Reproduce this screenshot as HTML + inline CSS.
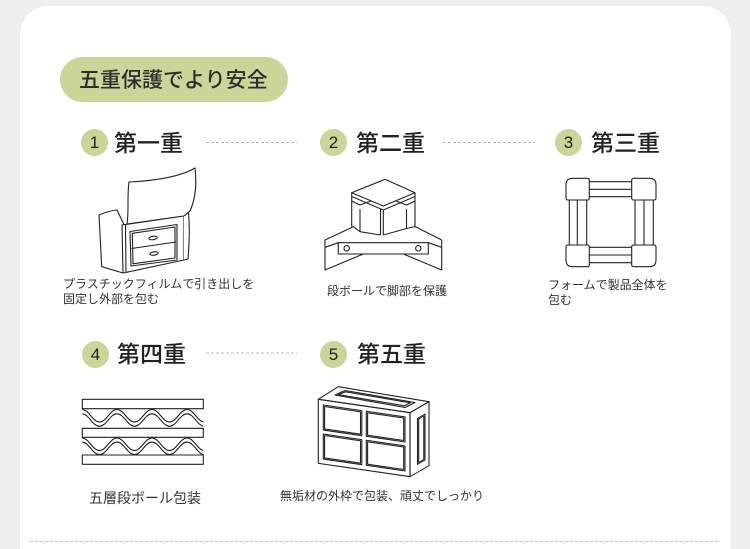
<!DOCTYPE html>
<html><head><meta charset="utf-8">
<style>
*{margin:0;padding:0;box-sizing:border-box}
html,body{width:750px;height:549px;overflow:hidden;background:#efefef;font-family:"Liberation Sans","Noto Sans CJK JP",sans-serif;color:#2a2a2a;position:relative}
.card{position:absolute;left:20px;top:6px;width:711px;height:543px;background:#fff;border-radius:28px 28px 0 0;box-shadow:0 0 3px rgba(0,0,0,0.04)}
.pill{position:absolute;left:60px;top:57px;width:228px;height:45px;border-radius:23px;background:#cbd598}
.t{position:absolute;white-space:nowrap}
.title{left:79px;top:66px;font-size:21px;line-height:30px;font-weight:500;color:#2e2e2e}
.h{font-size:23px;line-height:30px;font-weight:500;color:#222}
.c{position:absolute;width:27px;height:27px;border-radius:50%;background:#cbd598;font-family:"Liberation Sans",sans-serif;font-size:17px;line-height:27px;text-align:center;color:#222}
.cap{font-size:12px;line-height:15px;color:#333}
</style></head><body>
<div class="card"></div>
<div class="pill"></div>
<div class="t title">五重保護でより安全</div>

<div class="c" style="left:81px;top:129px">1</div>
<div class="t h" style="left:114px;top:128px">第一重</div>
<div class="c" style="left:320px;top:129px">2</div>
<div class="t h" style="left:356px;top:128px">第二重</div>
<div class="c" style="left:555px;top:129px">3</div>
<div class="t h" style="left:591px;top:128px">第三重</div>
<div class="c" style="left:82px;top:341px">4</div>
<div class="t h" style="left:117px;top:339px">第四重</div>
<div class="c" style="left:320px;top:341px">5</div>
<div class="t h" style="left:357px;top:339px">第五重</div>

<div class="t cap" style="left:63px;top:277px">プラスチックフィルムで引き出しを<br>固定し外部を包む</div>
<div class="t cap" style="left:327px;top:284px">段ボールで脚部を保護</div>
<div class="t cap" style="left:548px;top:278px">フォームで製品全体を<br>包む</div>
<div class="t" style="left:89px;top:489px;font-size:14px;line-height:18px;color:#333">五層段ボール包装</div>
<div class="t cap" style="left:280px;top:489px">無垢材の外枠で包装、頑丈でしっかり</div>

<svg width="750" height="549" style="position:absolute;left:0;top:0" fill="none" stroke="#222" stroke-width="1.1" stroke-linejoin="round">
<defs><clipPath id="cw"><rect x="82.3" y="395" width="121" height="75"/></clipPath></defs>
<g stroke="#bbb" stroke-width="1" stroke-dasharray="3 2">
<line x1="206" y1="142.5" x2="297" y2="142.5"/>
<line x1="443" y1="142.5" x2="535" y2="142.5"/>
<line x1="206" y1="353" x2="297" y2="353"/>
</g>
<line x1="30" y1="541.5" x2="720" y2="541.5" stroke="#c6c6c6" stroke-width="1" stroke-dasharray="3 2"/>

<!-- 1 -->
<g fill="#fff">
<path d="M129,182 C150,181 178,178 195,168 C197,185 195,200 190,211 L184,216 L127,224 C129,212 127,196 129,182 Z"/>
<path d="M99,215 Q108,211 117,210 L124,224.5 L123,273 L101.7,266.7 Z"/>
<path d="M122,225 L184,216 L184,260 L123,273 Z"/>
<path d="M184,216 L188.5,212.5 C190,230 189,248 188,259 L184,260"/>
</g>
<line x1="125.5" y1="224.5" x2="126" y2="272.5"/>
<path d="M130,231.5 L177,224.5 L177,260 L131,266 Z"/>
<path d="M132.3,233.3 L175,227 L175,258 L133,263.8 Z"/>
<path d="M131.5,248.5 L176,242"/>
<ellipse cx="153" cy="238" rx="4.2" ry="1.7" transform="rotate(-8 153 238)"/>
<ellipse cx="154" cy="253.5" rx="4.2" ry="1.7" transform="rotate(-8 154 253.5)"/>

<!-- 2 -->
<path d="M351.7,192.7 L385,179.3 L415,192.7 L383.3,206 Z"/>
<path d="M351.7,196.5 L383.3,210 L415,196.5"/>
<path d="M351.7,192.7 V226.7 M415,192.7 V226.5"/>
<path d="M380.5,209 V235 M383.3,210 V235"/>
<path d="M360,209 V231.7 M406.5,209 V228.5"/>
<path d="M351.7,201 L360,205 L371,201 M396,201 L406.5,205 L415,201"/>
<path d="M325,240 L353.3,226.7 L360,231.7 L380.5,235 M383.3,235 L406.5,228.5 L415,226.5 L441.7,240"/>
<path d="M325,247.3 L338.3,242.7 M441.7,247.3 L428.3,242.7"/>
<path d="M325,240 V270 L363.3,254 M441.7,240 V270 L403.3,254"/>
<rect x="338.3" y="242.7" width="90" height="11.3" fill="#fff"/>
<circle cx="346.7" cy="248.3" r="2.7"/>
<circle cx="418.3" cy="248.3" r="2.7"/>

<!-- 3 -->
<path d="M569.3,200 V245 M577.3,200 V245 M586.7,200 V245"/>
<path d="M635,200 V245 M644,200 V245 M653.3,200 V245"/>
<path d="M589.3,181.7 H631.7 M589.3,189.3 H631.7 M589.3,196.7 H631.7"/>
<path d="M589.3,247.3 H631.7 M589.3,255 H631.7 M589.3,262.7 H631.7"/>
<path d="M566,185 Q566,178.3 572.5,178.3 L587.3,178.3 Q589.3,178.3 589.3,180.3 L589.3,198 Q589.3,200 587.3,200 L568,200 Q566,200 566,198 Z"/>
<path d="M631.7,180.3 Q631.7,178.3 633.7,178.3 L649.5,178.3 Q656,178.3 656,185 L656,198 Q656,200 654,200 L633.7,200 Q631.7,200 631.7,198 Z"/>
<path d="M566,247 Q566,245 568,245 L587.3,245 Q589.3,245 589.3,247 L589.3,264.7 Q589.3,266.7 587.3,266.7 L572.5,266.7 Q566,266.7 566,260 Z"/>
<path d="M631.7,247 Q631.7,245 633.7,245 L654,245 Q656,245 656,247 L656,260 Q656,266.7 649.5,266.7 L633.7,266.7 Q631.7,266.7 631.7,264.7 Z"/>

<!-- 4 -->
<rect x="82.3" y="399.3" width="121" height="9.4"/>
<rect x="82.3" y="428.3" width="121" height="9"/>
<rect x="82.3" y="455" width="121" height="9.3"/>
<g clip-path="url(#cw)">
<path d="M82,409.5 C89,409.5 92.5,422 99.5,422 C106.5,422 110,409.5 117,409.5 C124,409.5 127.5,422 134.5,422 C141.5,422 145,409.5 152,409.5 C159,409.5 162.5,422 169.5,422 C176.5,422 180,409.5 187,409.5 C194,409.5 197.5,422 204.5,422"/>
<path transform="translate(0,4.3)" d="M82,409.5 C89,409.5 92.5,422 99.5,422 C106.5,422 110,409.5 117,409.5 C124,409.5 127.5,422 134.5,422 C141.5,422 145,409.5 152,409.5 C159,409.5 162.5,422 169.5,422 C176.5,422 180,409.5 187,409.5 C194,409.5 197.5,422 204.5,422"/>
<path transform="translate(0,28.5)" d="M82,409.5 C89,409.5 92.5,422 99.5,422 C106.5,422 110,409.5 117,409.5 C124,409.5 127.5,422 134.5,422 C141.5,422 145,409.5 152,409.5 C159,409.5 162.5,422 169.5,422 C176.5,422 180,409.5 187,409.5 C194,409.5 197.5,422 204.5,422"/>
<path transform="translate(0,32.6)" d="M82,409.5 C89,409.5 92.5,422 99.5,422 C106.5,422 110,409.5 117,409.5 C124,409.5 127.5,422 134.5,422 C141.5,422 145,409.5 152,409.5 C159,409.5 162.5,422 169.5,422 C176.5,422 180,409.5 187,409.5 C194,409.5 197.5,422 204.5,422"/>
</g>

<!-- 5 -->
<path d="M318.3,399.3 L338.3,386.7 L429,401.7 L410,412.7 Z"/>
<path d="M335,395 L345,390.5 L415,402.5 L405,407.5 Z"/>
<path d="M338,394.6 L345.5,391.8 L410.5,402.8 L404.5,405.8 Z"/>
<g transform="translate(318.3,399.3) skewY(8.3)">
<rect x="0" y="0" width="91.7" height="64"/>
<rect x="5" y="5" width="38.5" height="25"/>
<rect x="6.3" y="6.3" width="35.9" height="22.4"/>
<rect x="48" y="5" width="38.7" height="25"/>
<rect x="49.3" y="6.3" width="36.1" height="22.4"/>
<rect x="5" y="34" width="38.5" height="25"/>
<rect x="6.3" y="35.3" width="35.9" height="22.4"/>
<rect x="48" y="34" width="38.7" height="25"/>
<rect x="49.3" y="35.3" width="36.1" height="22.4"/>
</g>
<g transform="translate(410,412.7) skewY(-30)">
<rect x="0" y="0" width="19" height="64"/>
<rect x="7.5" y="10" width="7.5" height="46"/>
<rect x="8.7" y="11.3" width="5.1" height="43.4"/>
</g>
</svg>
</body></html>
